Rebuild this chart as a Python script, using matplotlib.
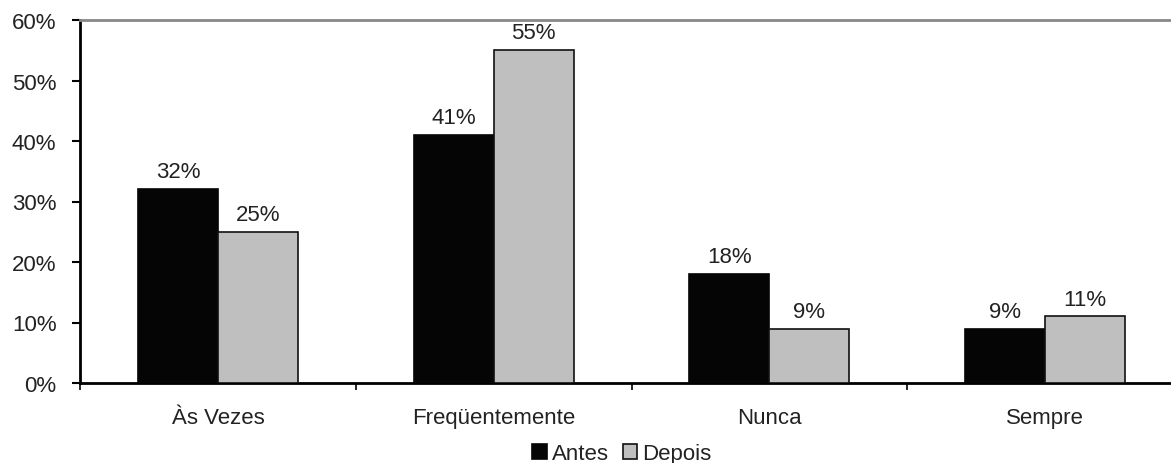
import matplotlib
matplotlib.use("Agg")
import matplotlib.pyplot as plt
import numpy as np

categories = ["Às Vezes", "Freqüentemente", "Nunca", "Sempre"]
antes = [32, 41, 18, 9]
depois = [25, 55, 9, 11]
series_names = ["Antes", "Depois"]
y_ticks = [0, 10, 20, 30, 40, 50, 60]

plt.rcParams["font.family"] = ["Liberation Sans", "DejaVu Sans"]
FS = 16
TXT = "#222222"

W, H = 1171, 464
fig = plt.figure(figsize=(W / 100, H / 100), dpi=100)
left, right, top, bottom = 80, 1183, 21, 384
ax = fig.add_axes([left / W, (H - bottom) / H, (right - left) / W, (bottom - top) / H])

x = np.arange(len(categories)) + 0.5
bw = 0.29
b1 = ax.bar(x - bw / 2, antes, bw, color="#050505", edgecolor="#050505", linewidth=1.2,
            label=series_names[0], zorder=3)
b2 = ax.bar(x + bw / 2, depois, bw, color="#bfbfbf", edgecolor="#111111", linewidth=1.2,
            label=series_names[1], zorder=3)

for bars, vals in ((b1, antes), (b2, depois)):
    for r, v in zip(bars, vals):
        ax.annotate(f"{v}%", (r.get_x() + r.get_width() / 2, v), xytext=(0, 5),
                    textcoords="offset points", ha="center", va="bottom",
                    fontsize=FS, color=TXT)

ax.set_xlim(0, len(categories))
ax.set_ylim(0, 60)
ax.set_yticks(y_ticks)
ax.set_yticklabels([f"{t}%" for t in y_ticks], fontsize=FS, color=TXT)
ax.tick_params(axis="y", direction="out", length=6, width=1.5, pad=11)

ax.set_xticks(x)
ax.set_xticklabels(categories, fontsize=FS, color=TXT)
ax.tick_params(axis="x", which="major", length=0, pad=17)
ax.set_xticks(np.arange(len(categories) + 1), minor=True)
ax.tick_params(axis="x", which="minor", direction="out", length=5, width=1.2)

ax.spines["right"].set_visible(False)
ax.spines["top"].set_color("#888888")
ax.spines["top"].set_linewidth(2)
ax.spines["left"].set_linewidth(2)
ax.spines["bottom"].set_linewidth(2)
ax.set_facecolor("white")

fig.legend(handles=[b1, b2], labels=series_names, loc="center",
           bbox_to_anchor=(622 / W, 1 - 455 / H), ncol=2, frameon=False,
           fontsize=FS, handlelength=0.65, handleheight=0.65, handletextpad=0.25,
           columnspacing=0.6, borderpad=0, labelcolor=TXT)

fig.savefig("out.png", dpi=100)
